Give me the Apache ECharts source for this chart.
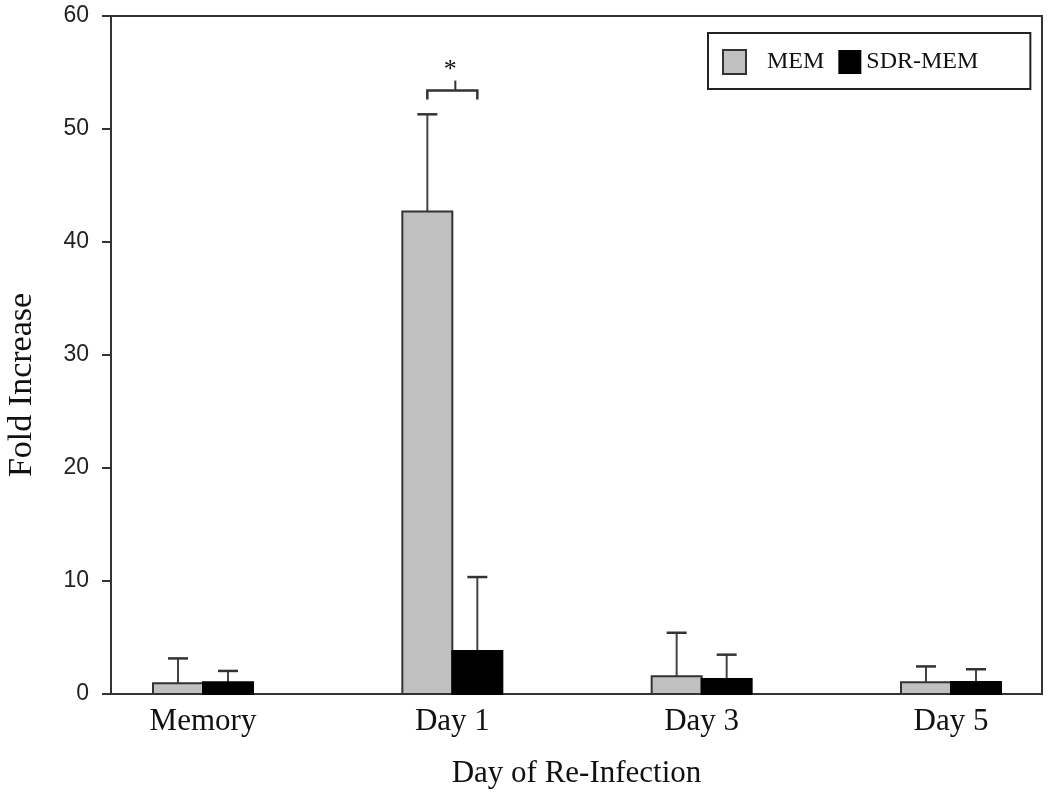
<!DOCTYPE html>
<html>
<head>
<meta charset="utf-8">
<script src="https://cdn.jsdelivr.net/npm/echarts@6/dist/echarts.min.js"></script>
<style>html,body{margin:0;padding:0;background:#fff}#c{width:1050px;height:803px}</style>
</head>
<body>
<div id="c"></div>
<script>
const categories = ['Memory', 'Day 1', 'Day 3', 'Day 5'];
const memMean = [0.95, 42.7, 1.57, 1.04];
const memErr = [2.2, 8.6, 3.85, 1.4];
const sdrMean = [1.04, 3.8, 1.33, 1.06];
const sdrErr = [1.0, 6.55, 2.15, 1.13];
const yMin = 0, yMax = 60, yStep = 10;
const sigCategory = 1;
const sigLevel = 53.4;
const sigLabel = '*';

const BW = 50;
const LINE = '#333';
const SERIF = '"Liberation Serif", "DejaVu Serif", serif';
const SANS = '"Liberation Sans", Arial, sans-serif';

function barRender(side, fill, stroke) {
  return function (params, api) {
    const x = api.value(0), m = api.value(1), e = api.value(2);
    const base = api.coord([x, 0]);
    const top = api.coord([x, m]);
    const et = api.coord([x, m + e]);
    const x0 = side < 0 ? base[0] - BW : base[0];
    const cx = x0 + BW / 2;
    return {
      type: 'group',
      children: [
        { type: 'line', shape: { x1: cx, y1: top[1], x2: cx, y2: et[1] }, style: { stroke: '#444', lineWidth: 2 } },
        { type: 'line', shape: { x1: cx - 10, y1: et[1], x2: cx + 10, y2: et[1] }, style: { stroke: '#333', lineWidth: 2.5 } },
        { type: 'rect', shape: { x: x0, y: top[1], width: BW, height: base[1] - top[1] }, style: { fill: fill, stroke: stroke, lineWidth: 2 } }
      ]
    };
  };
}

const chart = echarts.init(document.getElementById('c'), null, { renderer: 'canvas' });
chart.setOption({
  backgroundColor: '#fff',
  animation: false,
  grid: { left: 111, right: 8, top: 16, bottom: 109, show: true, borderColor: LINE, borderWidth: 2 },
  legend: {
    left: 708, top: 33,
    padding: [16, 52, 14, 14],
    borderColor: '#222', borderWidth: 2,
    itemWidth: 23, itemHeight: 24, itemGap: 14,
    textStyle: { fontFamily: SERIF, fontSize: 24, color: '#111',
      rich: { p: { fontFamily: SERIF, fontSize: 24, color: '#111', padding: [0, 0, 0, 16] } } },
    formatter: function (n) { return n === 'MEM' ? '{p|' + n + '}' : n; },
    data: [
      { name: 'MEM', icon: 'rect', itemStyle: { color: '#c0c0c0', borderColor: '#333', borderWidth: 2 } },
      { name: 'SDR-MEM', icon: 'rect', itemStyle: { color: '#000', borderColor: '#000', borderWidth: 0 } }
    ]
  },
  xAxis: {
    type: 'value', min: -0.369, max: 3.365,
    splitLine: { show: false },
    axisLine: { show: true, onZero: false, lineStyle: { color: LINE, width: 2 } },
    axisTick: { show: false },
    axisLabel: {
      customValues: categories.map((c, i) => i),
      formatter: function (v) { return categories[Math.round(v)] || ''; },
      fontFamily: SERIF, fontSize: 31, color: '#111', margin: 12
    },
    name: 'Day of Re-Infection', nameLocation: 'middle', nameGap: 64,
    nameTextStyle: { fontFamily: SERIF, fontSize: 31, color: '#111' }
  },
  yAxis: {
    type: 'value', min: yMin, max: yMax, interval: yStep,
    splitLine: { show: false },
    axisLine: { show: true, onZero: false, lineStyle: { color: LINE, width: 2 } },
    axisTick: { show: true, length: 9, lineStyle: { color: LINE, width: 2 } },
    axisLabel: { fontFamily: SANS, fontSize: 23, color: '#222', margin: 22 }
  },
  graphic: [{
    type: 'text', x: 22, y: 385, rotation: Math.PI / 2,
    style: { text: 'Fold Increase', font: '34px ' + SERIF, fill: '#111', textAlign: 'center', textVerticalAlign: 'middle' }
  }],
  series: [
    {
      name: 'MEM', type: 'custom', itemStyle: { color: '#c0c0c0' },
      renderItem: barRender(-1, '#c0c0c0', '#333'),
      encode: { x: 0, y: 1 },
      data: categories.map((c, i) => [i, memMean[i], memErr[i]])
    },
    {
      name: 'SDR-MEM', type: 'custom', itemStyle: { color: '#000' },
      renderItem: barRender(1, '#000', '#000'),
      encode: { x: 0, y: 1 },
      data: categories.map((c, i) => [i, sdrMean[i], sdrErr[i]])
    },
    {
      type: 'custom', silent: true,
      renderItem: function (params, api) {
        const p = api.coord([api.value(0), api.value(1)]);
        const l = p[0] - BW / 2, r = p[0] + BW / 2, y = p[1];
        return {
          type: 'group',
          children: [
            { type: 'polyline', shape: { points: [[l, y + 9], [l, y], [r, y], [r, y + 9]] }, style: { stroke: '#333', lineWidth: 2.5, fill: null } },
            { type: 'line', shape: { x1: p[0] + 3, y1: y, x2: p[0] + 3, y2: y - 10 }, style: { stroke: '#333', lineWidth: 2 } },
            { type: 'text', x: p[0] - 2, y: y - 20, style: { text: sigLabel, font: '26px ' + SERIF, fill: '#111', textAlign: 'center', textVerticalAlign: 'middle' } }
          ]
        };
      },
      encode: { x: 0, y: 1 },
      data: [[sigCategory, sigLevel]]
    }
  ]
});
</script>
</body>
</html>
